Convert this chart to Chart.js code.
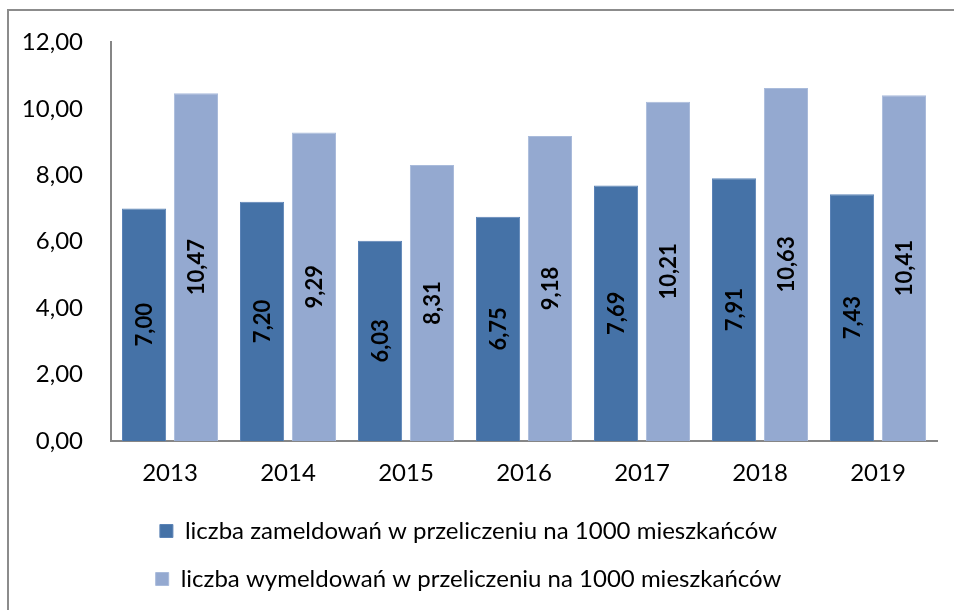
<!DOCTYPE html>
<html>
<head>
<meta charset="utf-8">
<script src="https://cdn.jsdelivr.net/npm/chart.js@4"></script>
<style>
  html, body { margin: 0; padding: 0; background: #fff; overflow: hidden; }
  #wrap { width: 954px; height: 610px; position: relative; }
</style>
</head>
<body>
<div id="wrap"><canvas id="chart" width="954" height="610"></canvas></div>
<script>
// dane
const lata = ['2013', '2014', '2015', '2016', '2017', '2018', '2019'];
const zameldowania = [7.00, 7.20, 6.03, 6.75, 7.69, 7.91, 7.43];
const wymeldowania = [10.47, 9.29, 8.31, 9.18, 10.21, 10.63, 10.41];
const nazwaZam = 'liczba zameldowań w przeliczeniu na 1000 mieszkańców';
const nazwaWym = 'liczba wymeldowań w przeliczeniu na 1000 mieszkańców';

const FONT = 'Lato, "Open Sans", sans-serif';
const fmt = (v) => v.toFixed(2).replace('.', ',');

// ramka wokół wykresu
const ramka = {
  id: 'ramka',
  beforeDraw(chart) {
    const ctx = chart.ctx;
    ctx.save();
    ctx.strokeStyle = '#8c8c8c';
    ctx.lineWidth = 2;
    ctx.beginPath();
    ctx.moveTo(8, 610);
    ctx.lineTo(8, 10);
    ctx.lineTo(954, 10);
    ctx.stroke();
    ctx.restore();
  },
};

// etykiety wartości obrócone o 90 stopni, na środku słupka
const etykiety = {
  id: 'etykiety',
  afterDatasetsDraw(chart) {
    const ctx = chart.ctx;
    ctx.save();
    ctx.font = 'bold 22px ' + FONT;
    ctx.fillStyle = '#000';
    ctx.textAlign = 'center';
    ctx.textBaseline = 'middle';
    chart.data.datasets.forEach((ds, i) => {
      chart.getDatasetMeta(i).data.forEach((bar, j) => {
        const cy = (bar.y + bar.base) / 2;
        ctx.save();
        ctx.translate(bar.x, cy);
        ctx.rotate(-Math.PI / 2);
        ctx.fillText(fmt(ds.data[j]), 0, 1);
        ctx.restore();
      });
    });
    ctx.restore();
  },
};

new Chart(document.getElementById('chart'), {
  type: 'bar',
  data: {
    labels: lata,
    datasets: [
      {
        label: nazwaZam,
        data: zameldowania,
        backgroundColor: '#4572a7',
        borderColor: '#5b83b6',
        borderWidth: 1,
        categoryPercentage: 0.88,
        barPercentage: 0.85,
      },
      {
        label: nazwaWym,
        data: wymeldowania,
        backgroundColor: '#94a9d0',
        borderColor: '#a9bbdb',
        borderWidth: 1,
        categoryPercentage: 0.88,
        barPercentage: 0.85,
      },
    ],
  },
  options: {
    responsive: false,
    animation: false,
    layout: { padding: { left: 0, right: 17, top: 40, bottom: 9 } },
    scales: {
      x: {
        grid: { display: false, drawTicks: false },
        border: { display: true, color: '#868686', width: 2 },
        ticks: { color: '#000', font: { family: FONT, size: 24 }, padding: 18 },
        afterFit: (s) => { s.height = 54; },
      },
      y: {
        min: 0,
        max: 12,
        grid: { display: false, drawTicks: false },
        border: { display: true, color: '#868686', width: 2 },
        ticks: {
          stepSize: 2,
          color: '#000',
          font: { family: FONT, size: 24 },
          padding: 28,
          callback: (v) => fmt(v),
        },
        afterFit: (s) => { s.width = 111; },
      },
    },
    plugins: {
      legend: {
        position: 'bottom',
        labels: {
          color: '#000',
          font: { family: FONT, size: 24 },
          boxWidth: 13,
          boxHeight: 13,
          padding: 24,
        },
      },
      tooltip: { enabled: false },
    },
  },
  plugins: [ramka, etykiety],
});
</script>
</body>
</html>
